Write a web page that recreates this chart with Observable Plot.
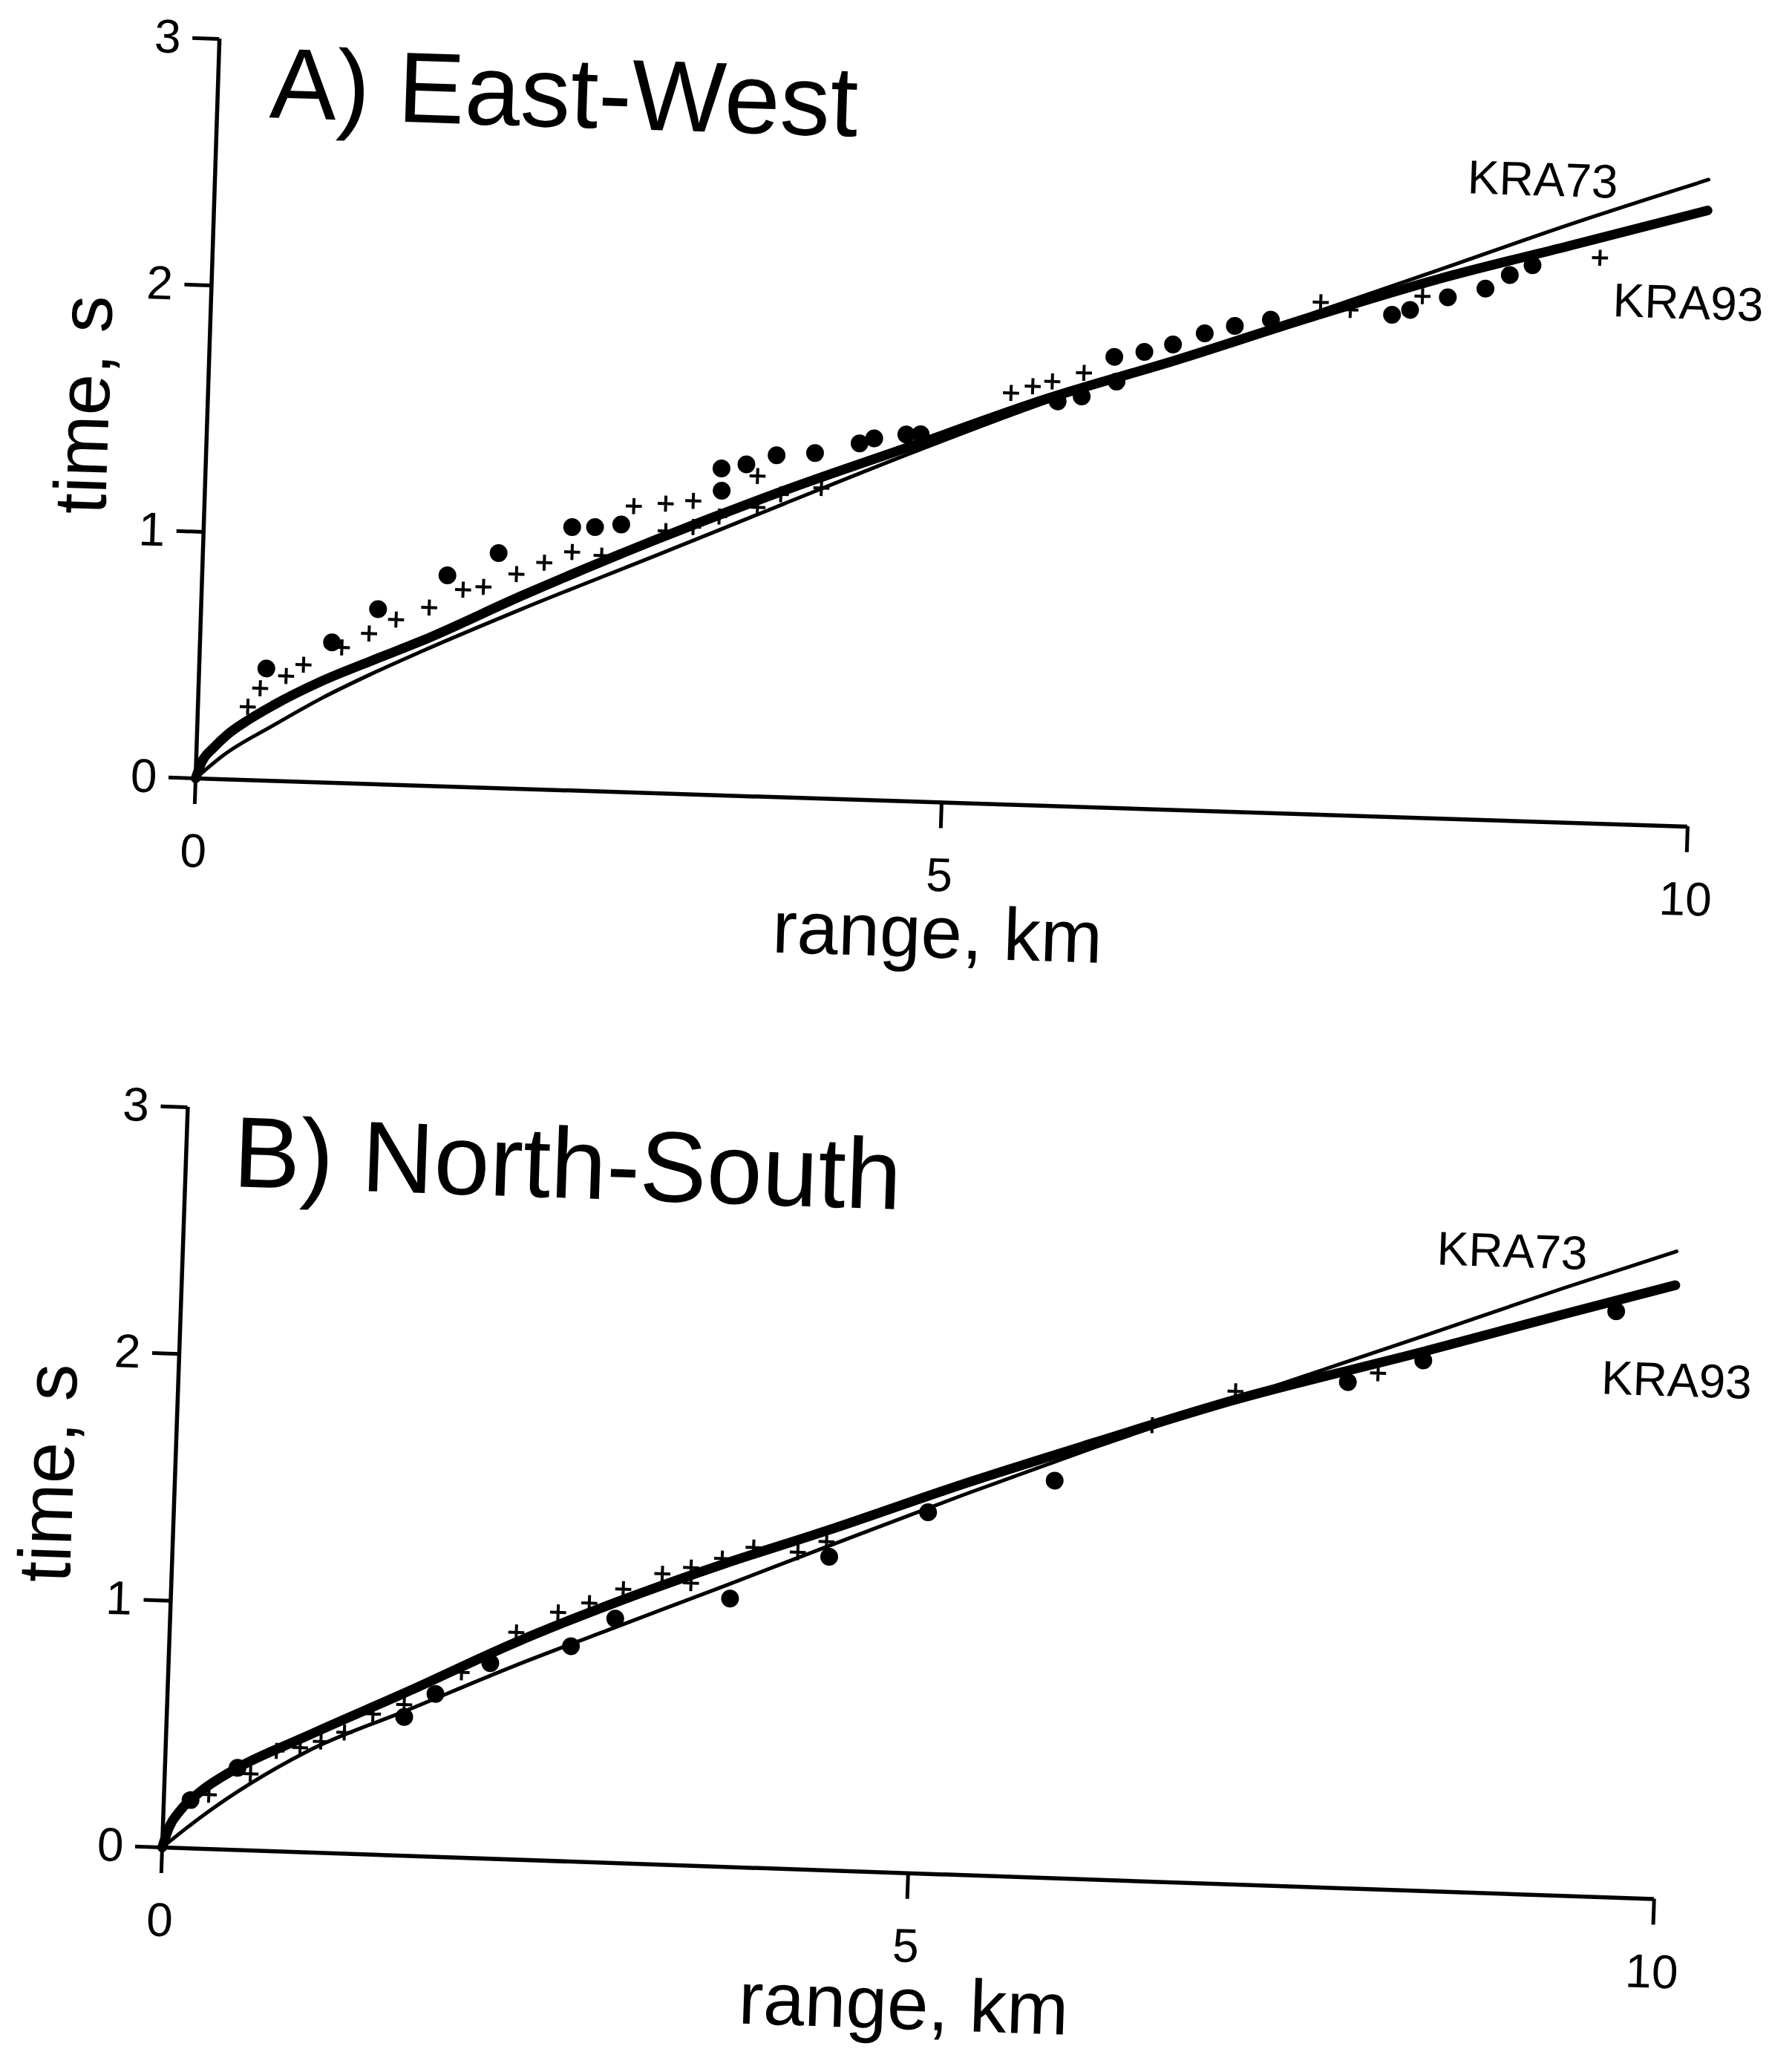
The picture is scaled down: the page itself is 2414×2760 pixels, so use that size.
<!DOCTYPE html>
<html>
<head>
<meta charset="utf-8">
<script src="https://cdn.jsdelivr.net/npm/d3@7"></script>
<script src="https://cdn.jsdelivr.net/npm/@observablehq/plot@0.6"></script>
<style>
html, body { margin: 0; padding: 0; background: #fff; }
#chart { width: 2414px; height: 2760px; position: relative; background: #fff; }
#chart svg { display: block; overflow: visible; }
</style>
</head>
<body>
<div id="chart"></div>
<script>
// ---------- shared ticks / labels ----------
const xTicks = [0, 5, 10];
const yTicks = [0, 1, 2, 3];
const xLabel = "range, km";
const yLabel = "time, s";
const panelTitles = ["A) East-West", "B) North-South"];
const modelNames = ["KRA73", "KRA93"];

// ---------- Panel A (East-West) ----------
const a73Range = [0, 0.18, 0.506, 0.828, 1.156, 1.484, 2.15, 3.02, 3.88, 4.75, 5.61, 6.48, 7.35, 8.22, 9.08, 10];
const a73Time  = [0, 0.097, 0.224, 0.342, 0.447, 0.544, 0.73, 0.96, 1.19, 1.42, 1.635, 1.83, 2.025, 2.225, 2.425, 2.625];
const a93Range = [0, 0.04, 0.113, 0.2, 0.336, 0.5, 0.824, 1.153, 1.48, 2.155, 3.02, 3.88, 4.75, 5.61, 6.48, 7.35, 8.22, 9.08, 10];
const a93Time  = [0, 0.07, 0.126, 0.18, 0.242, 0.305, 0.411, 0.50, 0.586, 0.786, 1.025, 1.244, 1.447, 1.649, 1.825, 2.012, 2.188, 2.338, 2.50];
const aDotRange = [0.45, 0.884, 1.185, 1.642, 1.98, 2.467, 2.62, 2.795, 3.454, 3.46, 3.62, 3.82, 4.077, 4.373, 4.47, 4.684, 4.78, 5.69, 5.85, 6.06, 6.08, 6.26, 6.45, 6.66, 6.86, 7.1, 7.91, 8.03, 8.28, 8.53, 8.69, 8.84];
const aDotTime  = [0.455, 0.569, 0.71, 0.856, 0.953, 1.068, 1.071, 1.085, 1.325, 1.235, 1.345, 1.386, 1.40, 1.445, 1.467, 1.487, 1.49, 1.641, 1.664, 1.829, 1.729, 1.853, 1.887, 1.936, 1.970, 2.0, 2.036, 2.058, 2.114, 2.154, 2.212, 2.255];
const aPlusRange = [0.334, 0.413, 0.584, 0.698, 0.951, 1.13, 1.308, 1.527, 1.75, 1.886, 2.104, 2.288, 2.472, 2.67, 2.875, 3.088, 3.094, 3.272, 3.277, 3.449, 3.697, 3.703, 3.857, 4.127, 5.376, 5.52, 5.65, 5.86, 7.43, 7.63, 8.11, 9.29];
const aPlusTime  = [0.297, 0.374, 0.427, 0.475, 0.55, 0.61, 0.67, 0.723, 0.80, 0.814, 0.87, 0.92, 0.967, 0.956, 1.161, 1.175, 1.064, 1.19, 1.084, 1.13, 1.299, 1.172, 1.228, 1.259, 1.669, 1.699, 1.721, 1.76, 2.077, 2.05, 2.115, 2.294];
const aLabelRange = [8.89, 9.89];
const aLabelTime  = [2.60, 2.12];

// ---------- Panel B (North-South) ----------
const b73Range = [0, 0.253, 0.936, 1.624, 2.311, 3.0, 3.69, 4.377, 5.3, 6.15, 7.06, 8.34, 9.25, 10];
const b73Time  = [0, 0.129, 0.405, 0.594, 0.783, 0.959, 1.134, 1.31, 1.544, 1.75, 1.96, 2.25, 2.46, 2.625];
const b93Range = [0, 0.04, 0.111, 0.25, 0.451, 0.932, 1.62, 2.306, 2.994, 3.684, 4.374, 5.3, 6.15, 7.06, 8.34, 9.25, 10];
const b93Time  = [0, 0.08, 0.151, 0.235, 0.32, 0.468, 0.669, 0.876, 1.059, 1.224, 1.375, 1.588, 1.77, 1.959, 2.186, 2.353, 2.488];
const bDotRange = [0.179, 0.486, 1.59, 1.794, 2.154, 2.69, 2.98, 3.744, 4.398, 5.05, 5.89, 7.83, 8.33, 9.61];
const bDotTime  = [0.196, 0.333, 0.562, 0.66, 0.792, 0.872, 0.99, 1.087, 1.27, 1.464, 1.61, 2.05, 2.148, 2.374];
const bPlusRange = [0.3, 0.574, 0.743, 0.90, 1.038, 1.193, 1.38, 1.587, 1.964, 2.321, 2.596, 2.803, 3.027, 3.285, 3.476, 3.479, 3.682, 3.89, 4.187, 4.377, 6.53, 7.08, 8.03];
const bPlusTime  = [0.22, 0.31, 0.407, 0.423, 0.451, 0.491, 0.57, 0.612, 0.751, 0.92, 1.007, 1.049, 1.11, 1.178, 1.207, 1.144, 1.248, 1.297, 1.284, 1.331, 1.848, 1.997, 2.09];
const bLabelRange = [8.9, 10.03];
const bLabelTime  = [2.6, 2.1];

// ---------- helpers ----------
const zip = (xs, ys) => xs.map((x, i) => ({range: x, time: ys[i]}));
const FONT = "'Liberation Sans', Arial, Helvetica, sans-serif";
const fmt = d => String(d);

function makePanel(cfg) {
  const labels = cfg.labelRange.map((x, i) => ({range: x, time: cfg.labelTime[i], name: modelNames[i]}));
  const svg = Plot.plot({
    width: 2414,
    height: cfg.height,
    marginLeft: cfg.ox,
    marginRight: 2414 - cfg.ox - cfg.xLen,
    marginTop: cfg.oy - cfg.yLen,
    marginBottom: cfg.height - cfg.oy,
    style: {fontFamily: FONT, background: "white", color: "black"},
    x: {domain: [0, 10]},
    y: {domain: [0, 3]},
    marks: [
      Plot.ruleX([0], {strokeWidth: 5.5}),
      Plot.ruleY([0], {strokeWidth: 5.5}),
      Plot.axisY({ticks: yTicks, tickFormat: fmt, tickSize: 36, tickPadding: 16, fontSize: 64, strokeWidth: 5, label: null}),
      Plot.axisX({ticks: xTicks, tickFormat: fmt, tickSize: 35, tickPadding: 39, fontSize: 64, strokeWidth: 5, label: null}),
      Plot.line(zip(cfg.r73, cfg.t73), {x: "range", y: "time", stroke: "black", strokeWidth: 5, curve: "monotone-x"}),
      Plot.line(zip(cfg.r93, cfg.t93), {x: "range", y: "time", stroke: "black", strokeWidth: 13, curve: "monotone-x"}),
      Plot.dot(zip(cfg.dotR, cfg.dotT), {x: "range", y: "time", r: 12, fill: "black", stroke: null}),
      Plot.dot(zip(cfg.plusR, cfg.plusT), {x: "range", y: "time", symbol: "plus", r: 7, stroke: "black", strokeWidth: 4}),
      Plot.text(labels, {x: "range", y: "time", text: "name", fontSize: 64}),
      Plot.text([cfg.title], {text: d => d, frameAnchor: "top-left", textAnchor: "start", lineAnchor: "bottom", dx: cfg.titleDx, dy: cfg.titleDy, fontSize: 135}),
      Plot.text([yLabel], {text: d => d, frameAnchor: "left", textAnchor: "middle", lineAnchor: "middle", rotate: -90, dx: cfg.yLabelDx, fontSize: 100}),
      Plot.text([xLabel], {text: d => d, frameAnchor: "bottom", textAnchor: "middle", lineAnchor: "bottom", dy: cfg.xLabelDy, fontSize: 100})
    ]
  });
  // the scanned figure is slightly rotated: rotate the whole drawing about the origin
  const ns = "http://www.w3.org/2000/svg";
  const g = document.createElementNS(ns, "g");
  g.setAttribute("transform", `rotate(${cfg.angle} ${cfg.ox} ${cfg.oy})`);
  Array.from(svg.childNodes).filter(n => n.nodeName !== "style").forEach(n => g.appendChild(n));
  svg.appendChild(g);
  return svg;
}

const chart = document.getElementById("chart");
chart.appendChild(makePanel({
  height: 1390, ox: 263, oy: 1048, xLen: 2011, yLen: 996.5, angle: 1.85,
  r73: a73Range, t73: a73Time, r93: a93Range, t93: a93Time,
  dotR: aDotRange, dotT: aDotTime, plusR: aPlusRange, plusT: aPlusTime,
  labelRange: aLabelRange, labelTime: aLabelTime,
  title: panelTitles[0], titleDx: 70, titleDy: 103.5, xLabelDy: 209, yLabelDx: -165
}));
chart.appendChild(makePanel({
  height: 1370, ox: 218, oy: 1098, xLen: 2011, yLen: 997.6, angle: 1.98,
  r73: b73Range, t73: b73Time, r93: b93Range, t93: b93Time,
  dotR: bDotRange, dotT: bDotTime, plusR: bPlusRange, plusT: bPlusTime,
  labelRange: bLabelRange, labelTime: bLabelTime,
  title: panelTitles[1], titleDx: 64, titleDy: 104.4, xLabelDy: 210, yLabelDx: -169
}));
</script>
</body>
</html>
